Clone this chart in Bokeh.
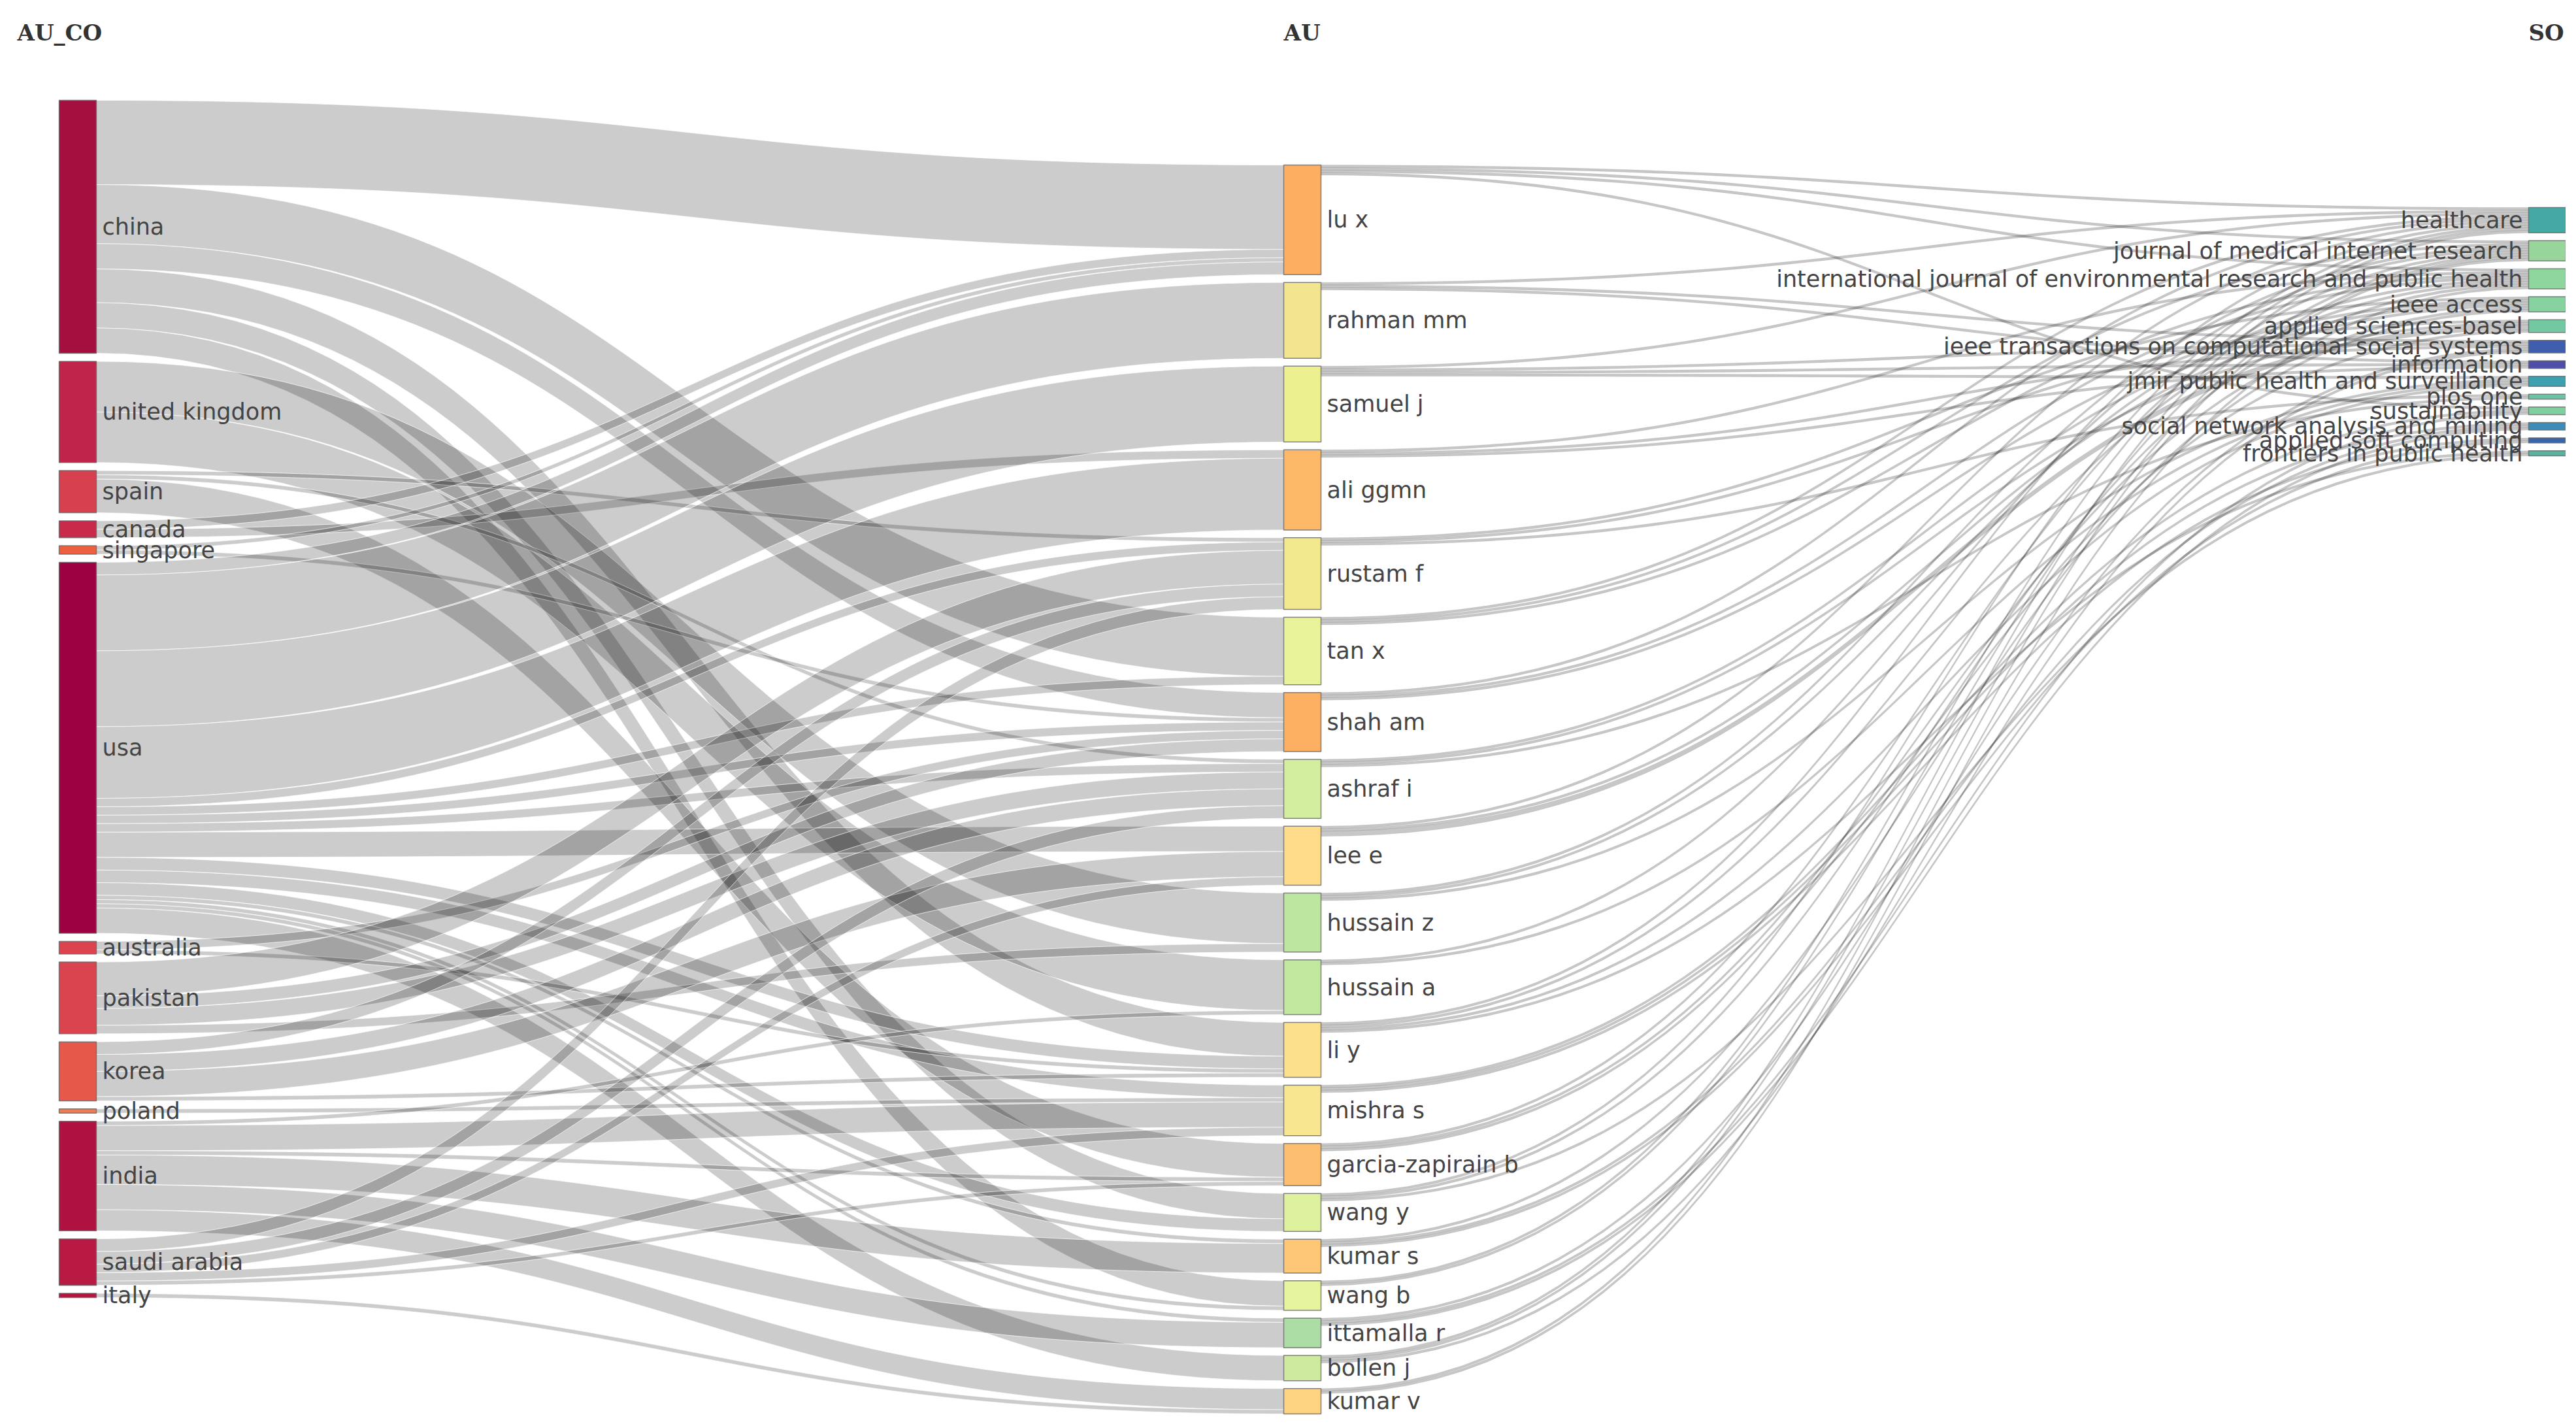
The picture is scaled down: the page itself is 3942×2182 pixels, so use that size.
from bokeh.plotting import figure
from bokeh.models import Range1d
from bokeh.embed import file_html
from bokeh.resources import INLINE
from bokeh.core.properties import value
import numpy as np

# ---------------- data ----------------
countries = ["china", "united kingdom", "spain", "canada", "singapore", "usa", "australia",
             "pakistan", "korea", "poland", "india", "saudi arabia", "italy"]
authors = ["lu x", "rahman mm", "samuel j", "ali ggmn", "rustam f", "tan x", "shah am", "ashraf i",
           "lee e", "hussain z", "hussain a", "li y", "mishra s", "garcia-zapirain b", "wang y",
           "kumar s", "wang b", "ittamalla r", "bollen j", "kumar v"]
sources = ["healthcare", "journal of medical internet research",
           "international journal of environmental research and public health", "ieee access",
           "applied sciences-basel", "ieee transactions on computational social systems", "information",
           "jmir public health and surveillance", "plos one", "sustainability",
           "social network analysis and mining", "applied soft computing", "frontiers in public health"]
field_titles = ["AU_CO", "AU", "SO"]

country_author_links = [
    ("china", "lu x", 20), ("china", "tan x", 14), ("china", "shah am", 6), ("china", "li y", 8),
    ("china", "wang y", 6), ("china", "wang b", 6),
    ("united kingdom", "hussain a", 12), ("united kingdom", "hussain z", 12),
    ("spain", "garcia-zapirain b", 8), ("spain", "rustam f", 1), ("spain", "ashraf i", 1),
    ("canada", "lu x", 2), ("canada", "ali ggmn", 2),
    ("singapore", "lu x", 1), ("singapore", "shah am", 1),
    ("usa", "rahman mm", 18), ("usa", "samuel j", 18), ("usa", "ali ggmn", 17), ("usa", "bollen j", 6),
    ("usa", "lu x", 3), ("usa", "lee e", 6), ("usa", "mishra s", 3), ("usa", "li y", 3),
    ("usa", "wang y", 3), ("usa", "tan x", 2), ("usa", "shah am", 2), ("usa", "ashraf i", 2),
    ("usa", "rustam f", 2), ("usa", "wang b", 1), ("usa", "kumar s", 1), ("usa", "ittamalla r", 1),
    ("australia", "shah am", 2), ("australia", "li y", 1),
    ("pakistan", "rustam f", 8), ("pakistan", "ashraf i", 4), ("pakistan", "shah am", 3),
    ("pakistan", "hussain z", 2),
    ("korea", "lee e", 6), ("korea", "ashraf i", 4), ("korea", "rustam f", 3), ("korea", "li y", 1),
    ("poland", "mishra s", 1),
    ("india", "mishra s", 6), ("india", "kumar s", 7), ("india", "ittamalla r", 6), ("india", "kumar v", 5),
    ("india", "hussain a", 1), ("india", "garcia-zapirain b", 1),
    ("saudi arabia", "rustam f", 3), ("saudi arabia", "ashraf i", 3), ("saudi arabia", "mishra s", 2),
    ("saudi arabia", "garcia-zapirain b", 1), ("saudi arabia", "lee e", 2),
    ("italy", "kumar v", 1),
]

author_source_links = [
    ("lu x", "healthcare", 0.6), ("lu x", "journal of medical internet research", 0.6),
    ("lu x", "international journal of environmental research and public health", 0.6),
    ("lu x", "sustainability", 0.6),
    ("rahman mm", "healthcare", 0.6), ("rahman mm", "ieee transactions on computational social systems", 0.6),
    ("rahman mm", "information", 0.6),
    ("samuel j", "healthcare", 0.6), ("samuel j", "ieee transactions on computational social systems", 0.6),
    ("samuel j", "information", 0.6), ("samuel j", "jmir public health and surveillance", 0.6),
    ("ali ggmn", "international journal of environmental research and public health", 0.6),
    ("ali ggmn", "ieee transactions on computational social systems", 0.6), ("ali ggmn", "information", 0.6),
    ("rustam f", "ieee access", 0.6), ("rustam f", "applied sciences-basel", 0.6), ("rustam f", "plos one", 0.6),
    ("tan x", "healthcare", 0.6), ("tan x", "journal of medical internet research", 0.6),
    ("tan x", "international journal of environmental research and public health", 0.6),
    ("shah am", "healthcare", 0.6),
    ("shah am", "international journal of environmental research and public health", 0.6),
    ("shah am", "ieee access", 0.6),
    ("ashraf i", "ieee access", 0.6), ("ashraf i", "applied sciences-basel", 0.6), ("ashraf i", "plos one", 0.6),
    ("lee e", "healthcare", 0.6), ("lee e", "ieee access", 0.6), ("lee e", "applied sciences-basel", 1.2),
    ("hussain z", "journal of medical internet research", 0.6),
    ("hussain z", "international journal of environmental research and public health", 0.6),
    ("hussain z", "jmir public health and surveillance", 0.6),
    ("hussain a", "journal of medical internet research", 0.6),
    ("hussain a", "jmir public health and surveillance", 0.6),
    ("li y", "healthcare", 0.6),
    ("li y", "international journal of environmental research and public health", 0.6),
    ("li y", "jmir public health and surveillance", 0.6), ("li y", "frontiers in public health", 0.6),
    ("mishra s", "sustainability", 0.6), ("mishra s", "social network analysis and mining", 0.6),
    ("mishra s", "applied soft computing", 0.6),
    ("garcia-zapirain b", "journal of medical internet research", 0.6),
    ("garcia-zapirain b", "ieee access", 0.6), ("garcia-zapirain b", "applied sciences-basel", 0.6),
    ("wang y", "healthcare", 0.6),
    ("wang y", "international journal of environmental research and public health", 0.6),
    ("wang y", "frontiers in public health", 0.6),
    ("kumar s", "ieee access", 0.6), ("kumar s", "social network analysis and mining", 0.6),
    ("kumar s", "applied soft computing", 0.6),
    ("wang b", "healthcare", 0.6), ("wang b", "journal of medical internet research", 0.6),
    ("ittamalla r", "ieee transactions on computational social systems", 0.6),
    ("ittamalla r", "sustainability", 0.6), ("ittamalla r", "social network analysis and mining", 0.6),
    ("bollen j", "healthcare", 0.6), ("bollen j", "journal of medical internet research", 0.6),
    ("bollen j", "ieee transactions on computational social systems", 0.6),
    ("kumar v", "journal of medical internet research", 0.6),
    ("kumar v", "international journal of environmental research and public health", 0.6),
]

# ---------------- styles ----------------
country_colors = ["#a50f3f", "#c0244a", "#d7404e", "#c82a4a", "#ee5f3f", "#9e0142", "#dc434e",
                  "#d9444e", "#e5584a", "#f07a52", "#af1240", "#b81a44", "#b5163f"]
author_colors = ["#fdae61", "#f3e58f", "#ecf08f", "#fdb967", "#f2e98e", "#e9f39a", "#fdb062", "#d4eea0",
                 "#fedc8a", "#bde6a0", "#c2e8a0", "#fde08b", "#f8e690", "#fdbe6f", "#ddf19f",
                 "#fdc775", "#e6f59d", "#abdda4", "#cdea9e", "#fed382"]
source_colors = ["#44a9a4", "#97d59a", "#8fd69e", "#86d3a0", "#72c8a0", "#3f5fae", "#4f4fa8",
                 "#3ca0b0", "#6cc4a4", "#7fcf9f", "#3d8cb8", "#3866a8", "#59b3a0"]

W, H = 3926, 2166
K = 6.45            # px per unit of flow
NODE_W = 57
col_x = [90, 1964, 3869]
col_top = [153, 252, 317]
col_bottom = [1985, 2163, None]
right_gap = 12

# ---------------- layout ----------------
def sums(links, idx):
    d = {}
    for l in links:
        d[l[idx]] = d.get(l[idx], 0) + l[2]
    return d

c_out = sums(country_author_links, 0)
a_in = sums(country_author_links, 1)
a_out = sums(author_source_links, 0)
s_in = sums(author_source_links, 1)

columns = [countries, authors, sources]
vals = [{n: c_out.get(n, 0) for n in countries},
        {n: max(a_in.get(n, 0), a_out.get(n, 0)) for n in authors},
        {n: s_in.get(n, 0) for n in sources}]

node = {}   # name -> (x0, x1, y0, y1)
for ci, names in enumerate(columns):
    total = sum(vals[ci][n] for n in names) * K
    if col_bottom[ci] is not None:
        gap = (col_bottom[ci] - col_top[ci] - total) / (len(names) - 1)
    else:
        gap = right_gap
    y = col_top[ci]
    for n in names:
        h = vals[ci][n] * K
        node[n] = (col_x[ci], col_x[ci] + NODE_W, y, y + h)
        y += h + gap

def link_geometry(links):
    out_off = {}
    in_off = {}
    src_sorted = sorted(range(len(links)), key=lambda i: (node[links[i][0]][2], node[links[i][1]][2]))
    tgt_sorted = sorted(range(len(links)), key=lambda i: (node[links[i][1]][2], node[links[i][0]][2]))
    ys = {}
    for i in src_sorted:
        s = links[i][0]
        o = out_off.get(s, node[s][2])
        ys.setdefault(i, {})["s"] = (o, o + links[i][2] * K)
        out_off[s] = o + links[i][2] * K
    for i in tgt_sorted:
        t = links[i][1]
        o = in_off.get(t, node[t][2])
        ys[i]["t"] = (o, o + links[i][2] * K)
        in_off[t] = o + links[i][2] * K
    xs_all, ys_all = [], []
    tt = np.linspace(0, 1, 60)
    for i, l in enumerate(links):
        x0 = node[l[0]][1]
        x1 = node[l[1]][0]
        xm = (x0 + x1) / 2
        (sy0, sy1), (ty0, ty1) = ys[i]["s"], ys[i]["t"]
        bx = (1 - tt) ** 3 * x0 + 3 * (1 - tt) ** 2 * tt * xm + 3 * (1 - tt) * tt ** 2 * xm + tt ** 3 * x1
        top = (1 - tt) ** 3 * sy0 + 3 * (1 - tt) ** 2 * tt * sy0 + 3 * (1 - tt) * tt ** 2 * ty0 + tt ** 3 * ty0
        bot = (1 - tt) ** 3 * sy1 + 3 * (1 - tt) ** 2 * tt * sy1 + 3 * (1 - tt) * tt ** 2 * ty1 + tt ** 3 * ty1
        xs_all.append(list(bx) + list(bx[::-1]))
        ys_all.append(list(top) + list(bot[::-1]))
    return xs_all, ys_all

p = figure(width=W, height=H, x_range=Range1d(0, W), y_range=Range1d(H, 0),
           output_backend="svg", toolbar_location=None, min_border=0,
           x_axis_location=None, y_axis_location=None)
p.grid.visible = False
p.outline_line_color = None
p.background_fill_color = "white"
p.border_fill_color = "white"

lx, ly = link_geometry(country_author_links)
p.patches(lx, ly, fill_color="black", fill_alpha=0.2, line_color="white", line_width=1, line_alpha=0.7)
lx, ly = link_geometry(author_source_links)
p.patches(lx, ly, fill_color="black", fill_alpha=0.22, line_color="black", line_width=0.6, line_alpha=0.12)

all_names = countries + authors + sources
all_colors = country_colors + author_colors + source_colors
p.quad(left=[node[n][0] for n in all_names], right=[node[n][1] for n in all_names],
       top=[node[n][2] for n in all_names], bottom=[node[n][3] for n in all_names],
       fill_color=all_colors, line_color="#666666", line_width=1.5, line_alpha=0.8)

lm = countries + authors
p.text(x=[node[n][1] + 9 for n in lm], y=[(node[n][2] + node[n][3]) / 2 for n in lm], text=lm,
       text_align="left", text_baseline="middle", text_font=value("DejaVu Sans"),
       text_font_size="35px", text_color="#444444")
p.text(x=[node[n][0] - 9 for n in sources], y=[(node[n][2] + node[n][3]) / 2 for n in sources],
       text=sources, text_align="right", text_baseline="middle", text_font=value("DejaVu Sans"),
       text_font_size="35px", text_color="#444444")

p.text(x=[26, col_x[1], col_x[2]], y=[49, 49, 49], text=field_titles, text_align="left",
       text_baseline="alphabetic", text_font=value("DejaVu Serif"), text_font_style="bold",
       text_font_size="34px", text_color="#333333")

open("out.html", "w").write(file_html(p, INLINE))
